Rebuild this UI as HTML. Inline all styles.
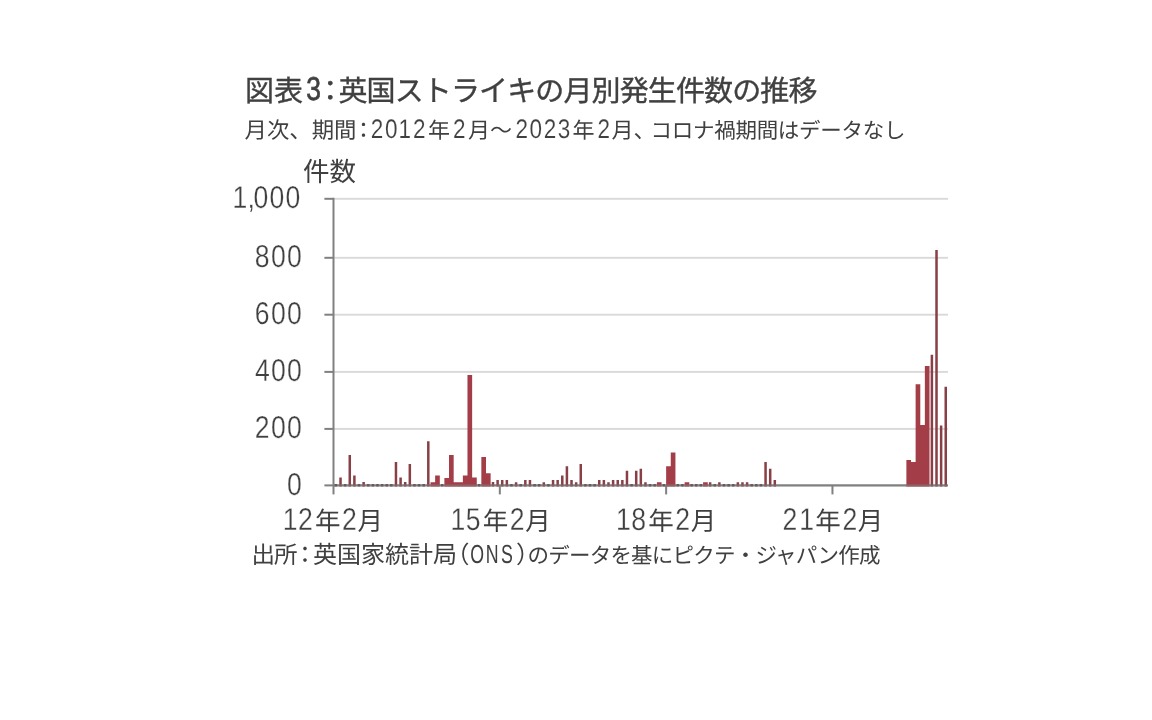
<!DOCTYPE html>
<html lang="ja"><head><meta charset="utf-8"><title>図表3：英国ストライキの月別発生件数の推移</title>
<style>html,body{margin:0;padding:0;background:#fff;width:1152px;height:720px;overflow:hidden}svg{display:block;font-family:"Liberation Sans","Noto Sans CJK JP",sans-serif}</style></head><body>
<svg width="1152" height="720" viewBox="0 0 1152 720">
<rect width="1152" height="720" fill="#fff"/>
<g shape-rendering="auto">
<rect x="333.50" y="197.85" width="614.46" height="1.9" fill="#d9d9d9"/>
<rect x="333.50" y="256.85" width="614.46" height="1.9" fill="#d9d9d9"/>
<rect x="333.50" y="313.75" width="614.46" height="1.9" fill="#d9d9d9"/>
<rect x="333.50" y="370.95" width="614.46" height="1.9" fill="#d9d9d9"/>
<rect x="333.50" y="427.95" width="614.46" height="1.9" fill="#d9d9d9"/>
<rect x="324.40" y="484.40" width="623.56" height="2" fill="#808080"/>
<rect x="332.50" y="197.80" width="2" height="296.60" fill="#808080"/>
<rect x="324.4" y="197.80" width="9.10" height="2" fill="#808080"/>
<rect x="324.4" y="256.80" width="9.10" height="2" fill="#808080"/>
<rect x="324.4" y="313.70" width="9.10" height="2" fill="#808080"/>
<rect x="324.4" y="370.90" width="9.10" height="2" fill="#808080"/>
<rect x="324.4" y="427.90" width="9.10" height="2" fill="#808080"/>
<rect x="498.82" y="485.40" width="2" height="9.00" fill="#808080"/>
<rect x="665.14" y="485.40" width="2" height="9.00" fill="#808080"/>
<rect x="831.46" y="485.40" width="2" height="9.00" fill="#808080"/>
<path fill="#a33e48" d="M430.52 486.40H435.19V482.30H430.52ZM435.14 486.40H439.81V475.40H435.14ZM444.38 486.40H449.05V477.90H444.38ZM449.00 486.40H453.67V455.00H449.00ZM453.62 486.40H458.29V482.30H453.62ZM458.24 486.40H462.91V482.30H458.24ZM462.86 486.40H467.53V475.40H462.86ZM467.48 486.40H472.15V375.00H467.48ZM472.10 486.40H476.77V477.50H472.10ZM481.34 486.40H486.01V457.00H481.34ZM485.96 486.40H490.63V473.20H485.96ZM656.90 486.40H661.57V482.30H656.90ZM666.14 486.40H670.81V466.25H666.14ZM670.76 486.40H675.43V452.50H670.76ZM684.62 486.40H689.29V482.30H684.62ZM703.10 486.40H707.77V482.30H703.10ZM906.38 486.40H911.05V460.00H906.38ZM911.00 486.40H915.67V462.00H911.00ZM915.62 486.40H920.29V384.20H915.62ZM920.24 486.40H924.91V425.00H920.24ZM924.86 486.40H929.53V366.00H924.86Z"/>
<path fill="#883f46" d="M339.28 486.40H341.78V477.50H339.28ZM348.52 486.40H351.02V455.00H348.52ZM353.14 486.40H355.64V475.40H353.14ZM362.38 486.40H364.88V482.00H362.38ZM394.72 486.40H397.22V462.00H394.72ZM399.34 486.40H401.84V477.50H399.34ZM403.96 486.40H406.46V482.00H403.96ZM408.58 486.40H411.08V464.00H408.58ZM427.06 486.40H429.56V441.25H427.06ZM491.74 486.40H494.24V482.00H491.74ZM496.36 486.40H498.86V480.00H496.36ZM500.98 486.40H503.48V480.00H500.98ZM505.60 486.40H508.10V480.00H505.60ZM514.84 486.40H517.34V482.30H514.84ZM524.08 486.40H526.58V480.00H524.08ZM528.70 486.40H531.20V480.00H528.70ZM542.56 486.40H545.06V482.30H542.56ZM551.80 486.40H554.30V480.00H551.80ZM556.42 486.40H558.92V480.00H556.42ZM561.04 486.40H563.54V475.40H561.04ZM565.66 486.40H568.16V466.25H565.66ZM570.28 486.40H572.78V480.00H570.28ZM574.90 486.40H577.40V482.30H574.90ZM579.52 486.40H582.02V464.00H579.52ZM598.00 486.40H600.50V480.00H598.00ZM602.62 486.40H605.12V480.00H602.62ZM607.24 486.40H609.74V482.30H607.24ZM611.86 486.40H614.36V480.00H611.86ZM616.48 486.40H618.98V480.00H616.48ZM621.10 486.40H623.60V480.00H621.10ZM625.72 486.40H628.22V470.80H625.72ZM634.96 486.40H637.46V470.80H634.96ZM639.58 486.40H642.08V468.75H639.58ZM644.20 486.40H646.70V482.30H644.20ZM708.88 486.40H711.38V482.30H708.88ZM718.12 486.40H720.62V482.30H718.12ZM736.60 486.40H739.10V482.30H736.60ZM741.22 486.40H743.72V482.30H741.22ZM745.84 486.40H748.34V482.30H745.84ZM764.32 486.40H766.82V462.00H764.32ZM768.94 486.40H771.44V468.75H768.94ZM773.56 486.40H776.06V480.00H773.56ZM930.64 486.40H933.14V354.80H930.64ZM935.26 486.40H937.76V250.00H935.26ZM939.88 486.40H942.38V425.40H939.88ZM944.50 486.40H947.00V386.70H944.50Z"/>
<rect x="333.50" y="484.40" width="614.46" height="2" fill="#808080" fill-opacity="0.55"/>
<path fill="#6a5a5c" d="M334.66 486.40h2.50v-2.30h-2.50zM343.90 486.40h2.50v-2.30h-2.50zM357.76 486.40h2.50v-2.30h-2.50zM367.00 486.40h2.50v-2.30h-2.50zM371.62 486.40h2.50v-2.30h-2.50zM376.24 486.40h2.50v-2.30h-2.50zM380.86 486.40h2.50v-2.30h-2.50zM385.48 486.40h2.50v-2.30h-2.50zM390.10 486.40h2.50v-2.30h-2.50zM413.20 486.40h2.50v-2.30h-2.50zM417.82 486.40h2.50v-2.30h-2.50zM422.44 486.40h2.50v-2.30h-2.50zM440.92 486.40h2.50v-2.30h-2.50zM477.88 486.40h2.50v-2.30h-2.50zM510.22 486.40h2.50v-2.30h-2.50zM519.46 486.40h2.50v-2.30h-2.50zM533.32 486.40h2.50v-2.30h-2.50zM537.94 486.40h2.50v-2.30h-2.50zM547.18 486.40h2.50v-2.30h-2.50zM584.14 486.40h2.50v-2.30h-2.50zM588.76 486.40h2.50v-2.30h-2.50zM593.38 486.40h2.50v-2.30h-2.50zM630.34 486.40h2.50v-2.30h-2.50zM648.82 486.40h2.50v-2.30h-2.50zM653.44 486.40h2.50v-2.30h-2.50zM662.68 486.40h2.50v-2.30h-2.50zM676.54 486.40h2.50v-2.30h-2.50zM681.16 486.40h2.50v-2.30h-2.50zM690.40 486.40h2.50v-2.30h-2.50zM695.02 486.40h2.50v-2.30h-2.50zM699.64 486.40h2.50v-2.30h-2.50zM713.50 486.40h2.50v-2.30h-2.50zM722.74 486.40h2.50v-2.30h-2.50zM727.36 486.40h2.50v-2.30h-2.50zM731.98 486.40h2.50v-2.30h-2.50zM750.46 486.40h2.50v-2.30h-2.50zM755.08 486.40h2.50v-2.30h-2.50zM759.70 486.40h2.50v-2.30h-2.50z"/>
</g>
<g style="filter:grayscale(1)" text-rendering="geometricPrecision">
<text x="245" y="100.5" font-size="29" fill="#404040" stroke="#404040" stroke-width="0.35" font-family="&quot;Liberation Sans&quot;,&quot;Noto Sans CJK JP&quot;,sans-serif">図表</text>
<text transform="translate(0,100.00) scale(0.8000,1.0000)" x="382.67" y="0" font-size="33.0" fill="#404040" stroke="#404040" stroke-width="0.7">3</text>
<text x="330.3" y="100.5" font-size="29" text-anchor="middle" fill="#404040" stroke="#404040" stroke-width="0.35" font-family="&quot;Liberation Sans&quot;,&quot;Noto Sans CJK JP&quot;,sans-serif">：</text>
<text x="338.5" y="100.5" font-size="29" textLength="479" fill="#404040" stroke="#404040" stroke-width="0.35" font-family="&quot;Liberation Sans&quot;,&quot;Noto Sans CJK JP&quot;,sans-serif">英国ストライキの月別発生件数の推移</text>
<text x="244.5" y="138" font-size="22.4" textLength="112" fill="#404040" font-family="&quot;Liberation Sans&quot;,&quot;Noto Sans CJK JP&quot;,sans-serif">月次、期間</text>
<text x="363.4" y="138" font-size="22" text-anchor="middle" fill="#404040" font-family="&quot;Liberation Sans&quot;,&quot;Noto Sans CJK JP&quot;,sans-serif">：</text>
<text transform="translate(0,137.60) scale(0.8400,1.0000)" x="441.48 458.20 474.46 491.65" y="0" font-size="26.8" fill="#404040" stroke="#fff" stroke-width="0.15">2012</text>
<text x="428" y="138" font-size="22" fill="#404040" font-family="&quot;Liberation Sans&quot;,&quot;Noto Sans CJK JP&quot;,sans-serif">年</text>
<text transform="translate(0,137.60) scale(0.8400,1.0000)" x="539.15" y="0" font-size="26.8" fill="#404040" stroke="#fff" stroke-width="0.15">2</text>
<text x="468" y="138" font-size="22" fill="#404040" font-family="&quot;Liberation Sans&quot;,&quot;Noto Sans CJK JP&quot;,sans-serif">月～</text>
<text transform="translate(0,137.60) scale(0.8400,1.0000)" x="613.74 630.46 647.19 664.00" y="0" font-size="26.8" fill="#404040" stroke="#fff" stroke-width="0.15">2023</text>
<text x="572.5" y="138" font-size="22" fill="#404040" font-family="&quot;Liberation Sans&quot;,&quot;Noto Sans CJK JP&quot;,sans-serif">年</text>
<text transform="translate(0,137.60) scale(0.8400,1.0000)" x="711.36" y="0" font-size="26.8" fill="#404040" stroke="#fff" stroke-width="0.15">2</text>
<text x="611.5" y="138" font-size="22" fill="#404040" font-family="&quot;Liberation Sans&quot;,&quot;Noto Sans CJK JP&quot;,sans-serif">月、</text>
<text x="650.5" y="138" font-size="21.5" textLength="255" fill="#404040" font-family="&quot;Liberation Sans&quot;,&quot;Noto Sans CJK JP&quot;,sans-serif">コロナ禍期間はデータなし</text>
<text x="303" y="180.5" font-size="26.5" fill="#404040" font-family="&quot;Liberation Sans&quot;,&quot;Noto Sans CJK JP&quot;,sans-serif">件数</text>
<text transform="translate(0,208.30) scale(0.8750,1.0400)" x="265.81 282.86 289.80 308.09 326.38" y="0" font-size="30.4" fill="#404040" stroke="#fff" stroke-width="0.3">1,000</text>
<text transform="translate(0,267.30) scale(0.8750,1.0400)" x="291.29 309.58 327.86" y="0" font-size="30.4" fill="#404040" stroke="#fff" stroke-width="0.3">800</text>
<text transform="translate(0,324.20) scale(0.8750,1.0400)" x="291.19 309.58 327.86" y="0" font-size="30.4" fill="#404040" stroke="#fff" stroke-width="0.3">600</text>
<text transform="translate(0,381.40) scale(0.8750,1.0400)" x="291.39 309.58 327.86" y="0" font-size="30.4" fill="#404040" stroke="#fff" stroke-width="0.3">400</text>
<text transform="translate(0,438.40) scale(0.8750,1.0400)" x="291.29 309.58 327.86" y="0" font-size="30.4" fill="#404040" stroke="#fff" stroke-width="0.3">200</text>
<text transform="translate(0,494.90) scale(0.8750,1.0400)" x="327.86" y="0" font-size="30.4" fill="#404040" stroke="#fff" stroke-width="0.3">0</text>
<text transform="translate(0,529.70) scale(0.8750,1.0400)" x="323.24 340.69" y="0" font-size="30.4" fill="#404040" stroke="#fff" stroke-width="0.3">12</text>
<text x="315" y="530" font-size="25.5" fill="#404040" font-family="&quot;Liberation Sans&quot;,&quot;Noto Sans CJK JP&quot;,sans-serif">年</text>
<text transform="translate(0,529.70) scale(0.8750,1.0400)" x="390.98" y="0" font-size="30.4" fill="#404040" stroke="#fff" stroke-width="0.3">2</text>
<text x="357.5" y="530" font-size="25.5" fill="#404040" font-family="&quot;Liberation Sans&quot;,&quot;Noto Sans CJK JP&quot;,sans-serif">月</text>
<text transform="translate(0,529.70) scale(0.8750,1.0400)" x="514.92 532.40" y="0" font-size="30.4" fill="#404040" stroke="#fff" stroke-width="0.3">15</text>
<text x="482.7" y="530" font-size="25.5" fill="#404040" font-family="&quot;Liberation Sans&quot;,&quot;Noto Sans CJK JP&quot;,sans-serif">年</text>
<text transform="translate(0,529.70) scale(0.8750,1.0400)" x="582.66" y="0" font-size="30.4" fill="#404040" stroke="#fff" stroke-width="0.3">2</text>
<text x="525.2" y="530" font-size="25.5" fill="#404040" font-family="&quot;Liberation Sans&quot;,&quot;Noto Sans CJK JP&quot;,sans-serif">月</text>
<text transform="translate(0,529.70) scale(0.8750,1.0400)" x="704.09 721.54" y="0" font-size="30.4" fill="#404040" stroke="#fff" stroke-width="0.3">18</text>
<text x="648.2" y="530" font-size="25.5" fill="#404040" font-family="&quot;Liberation Sans&quot;,&quot;Noto Sans CJK JP&quot;,sans-serif">年</text>
<text transform="translate(0,529.70) scale(0.8750,1.0400)" x="771.82" y="0" font-size="30.4" fill="#404040" stroke="#fff" stroke-width="0.3">2</text>
<text x="690.7" y="530" font-size="25.5" fill="#404040" font-family="&quot;Liberation Sans&quot;,&quot;Noto Sans CJK JP&quot;,sans-serif">月</text>
<text transform="translate(0,529.70) scale(0.8750,1.0400)" x="894.24 913.37" y="0" font-size="30.4" fill="#404040" stroke="#fff" stroke-width="0.3">21</text>
<text x="815.3" y="530" font-size="25.5" fill="#404040" font-family="&quot;Liberation Sans&quot;,&quot;Noto Sans CJK JP&quot;,sans-serif">年</text>
<text transform="translate(0,529.70) scale(0.8750,1.0400)" x="962.82" y="0" font-size="30.4" fill="#404040" stroke="#fff" stroke-width="0.3">2</text>
<text x="857.8" y="530" font-size="25.5" fill="#404040" font-family="&quot;Liberation Sans&quot;,&quot;Noto Sans CJK JP&quot;,sans-serif">月</text>
<text x="251.5" y="562.5" font-size="23.5" textLength="46" fill="#404040" font-family="&quot;Liberation Sans&quot;,&quot;Noto Sans CJK JP&quot;,sans-serif">出所</text>
<text x="305" y="562.5" font-size="23.5" text-anchor="middle" fill="#404040" font-family="&quot;Liberation Sans&quot;,&quot;Noto Sans CJK JP&quot;,sans-serif">：</text>
<text x="313" y="562.5" font-size="24" textLength="144" fill="#404040" font-family="&quot;Liberation Sans&quot;,&quot;Noto Sans CJK JP&quot;,sans-serif">英国家統計局</text>
<text x="469.5" y="562.5" font-size="24" text-anchor="end" fill="#404040" font-family="&quot;Liberation Sans&quot;,&quot;Noto Sans CJK JP&quot;,sans-serif">（</text>
<text transform="translate(0,563.00) scale(0.6800,1.0000)" x="691.55 714.39 736.60" y="0" font-size="26.1" fill="#404040">ONS</text>
<text x="516" y="562.5" font-size="24" fill="#404040" font-family="&quot;Liberation Sans&quot;,&quot;Noto Sans CJK JP&quot;,sans-serif">）</text>
<text x="527.5" y="562.5" font-size="21.5" textLength="353" fill="#404040" font-family="&quot;Liberation Sans&quot;,&quot;Noto Sans CJK JP&quot;,sans-serif">のデータを基にピクテ・ジャパン作成</text>
</g>
</svg></body></html>
